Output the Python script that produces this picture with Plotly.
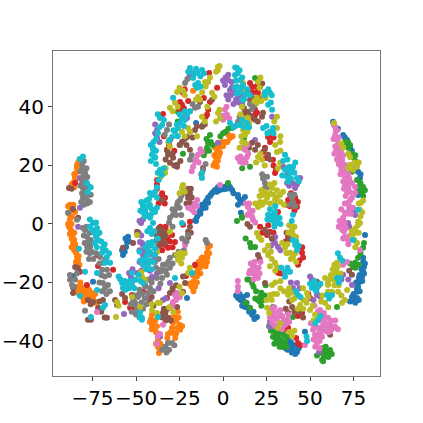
import plotly.graph_objects as go

blue = [(-14.9,2.4),(-13.2,4.8),(-10.3,7.2),(-8.6,8.9),(-6.3,10.6),(-4.6,11.6),(-1.7,11.6),(1.1,12.6),(4,12.6),(5.2,11.6),
        (-8.6,7.2),(-11.5,5.8),(8.6,9.9),(9.8,8.2),(11.5,7.2),(-16,1.2),(-3,12.5),(2.5,13.2),(-7.5,9.5),(-12.5,5),
        (-54.6,-4.4),(-55.2,-6.2),(-55.7,-7.9),(-57.5,-10.6),(8.6,9.2),(10.9,8.2),(8.6,6.5),(12.6,9.2),(10.3,3.8),
        (8.6,-25.3),(11.5,-25),(13.8,-24.3),(12.6,-28.4),(14.4,-28.7),(16.7,-31.1),(19.5,-31.8),(10,-26),(15,-30),
        (36.8,-41.4),(38.5,-42.4),(40.2,-43.1),(42.5,-43.8),(47.1,-36.9),(37,-43),(35,-40.5),(39,-40.5),(41,-41.5),
        (81,-14.7),(80.5,-16.4),(79.9,-18.1),(78.7,-19.8),(77.6,-21.5),(77,-23.2),(74.1,-25),(77,-25.3),(80.5,-11.6),(81.6,-3.8),(75.5,-26),
        (69,30.4),(71.3,28.7),(73,26),(77.6,17.8),(78.7,15.7),(77.6,9.9),(63.2,34.9),(-15.5,34.5),(-11.5,33.8),(-74.7,-19.8),(-86.2,-17.8),(-20.7,-25.3),
        (-15.5,1),(-14,3.5),(-12,6.5),(-9.5,8),(-7,10),(-5.5,11),(-3.5,11),(-0.5,12.5),(0.5,11.8),(2,12),(3,13),(6,10.5),(-10,5.5),(-13,3.5),
        (-56,-5),(-54,-6),(-56.5,-9.5),(-58,-9),(9.5,-24),(7.5,-24.5),(12,-26.5),(11,-28),(13.5,-27),(15.5,-29.5),(17.5,-30),(18,-32.5),
        (38,-41),(36,-42.5),(39.5,-44),(41.5,-44.5),(43.5,-42.5),(37.5,-39.5),(34,-42),(80.5,-13),(81.5,-13.5),(79.5,-15.5),(81,-17),(78.5,-17.5),(78,-18.5),(80,-19.5),
        (76.5,-20),(77,-22),(78.5,-23),(75,-24),(73,-26.5),(76,-27),(78,-26),(70,29.5),(72,27),(74,25),(66,32.5),(76,19),(79,17)]
orange = [(-83.3,20.9),(-83.9,19.1),(-84.5,17.4),(-85.1,15.7),(-86.2,14),(-87.9,6.5),(-86.8,4.8),(-88.5,3.4),(-85,4.1),(-86.8,2.4),
          (-88.5,-1),(-86.8,-2.7),(-86.2,-4.8),(-86.2,-6.5),(-85,-8.2),(-84.5,-9.9),(-83.9,-11.3),(-87.5,-2),(-85.5,-5.5),
          (-83.3,-12.3),(-83.9,-15),(-83.3,-21.5),(-82.2,-22.6),(-80.5,-23.6),(-78.2,-23.2),(-77.6,-24.3),(-75.3,-23.6),(-74.7,-25.3),(-79.3,-25),(-83.3,-23.6),(-72.4,-26.7),(-81,-25),(-76.5,-26),
          (-40.2,-33.5),(-40.8,-34.5),(-39,-35.2),(-37.4,-39.7),(-37.4,-42),(-40.8,-31.1),(-42,-33.5),(-27.6,-31.8),(-28.7,-33.8),(-29.3,-35.6),(-26.4,-35.6),(-24.7,-36.2),(-28.7,-37.3),(-31.6,-37.6),(-36.8,-42.4),(-36.8,-44.1),(-27,-33),
          (-9.2,-13),(-11.5,-14),(-13.2,-15),(-14.9,-16.4),(-16.1,-18.1),(-17.2,-19.8),(-16.1,-21.5),(-8.6,-8.2),(-9.2,-9.9),(-10.3,-11.6),(-11.5,-13.3),(-13.2,-14.7),(-15,-18),(-12,-11.5),(-14,-13),
          (4,29.4),(1.1,28),(-1.7,26.3),(-3.4,24.6),(-4,22.6),(-4.6,20.9),(-1.7,24.3),(-17.2,45.5),
          (-82.5,22),(-84,20),(-83,18),(-85.5,17),(-84,15.5),(-87,13.5),(-85.5,12.5),(-89,6),(-87.5,5.5),(-86,6.5),(-88,1.5),(-89,0),(-87,0),(-88,-3.5),(-85.5,-3),(-87,-5),(-85,-7),(-87,-8),(-85.5,-9),(-83.5,-8.5),
          (-83,-11),(-82.5,-14),(-84.5,-13),(-82,-20),(-84,-22),(-81.5,-21.5),(-79.5,-22),(-79,-24),(-77,-22.5),(-76,-24.5),(-78.5,-26),(-74,-27),(-73.5,-24),(-80,-26.5),
          (-38.5,-37),(-38,-35),(-41.5,-32.5),(-39,-33),(-41,-36),(-38.5,-41),(-36,-41),(-26,-30),(-25.5,-32),(-29,-32),(-27,-37.5),(-25,-34.5),(-23.5,-35),(-30,-37),(-27.5,-39),(-32,-39),
          (-7.5,-7.5),(-8,-10),(-9,-11.5),(-12.5,-12),(-10,-14.5),(-15.5,-14.5),(-13,-17),(-17.5,-17.5),(-18,-21.5),(-15,-20),(-17,-23),(-19.5,-20.5),
          (5.5,30),(3,30.5),(2.5,28),(-0.5,28),(0,26.5),(-3,27),(-4.5,26),(-2.5,23),(-5,23.5),(-3,21.5),(-5.5,20),(-3.5,19.5)]
green = [(29.9,-37.3),(28.7,-38.6),(31.6,-38.6),(31,-39.7),(33.9,-39.7),(33.9,-37.3),(35.6,-40.3),(30,-35.5),(32,-41),(27.5,-36.5),
         (57.5,-43.8),(59.8,-44.1),(61.5,-43.1),(56.9,-46.5),(58.6,-43.1),(55.7,-44.1),(58,-45.5),
         (15.5,-19.1),(16.7,-20.2),(21.3,-25),(23,-26),(20.1,-26),(15.5,-28.7),(24.5,-21),(28.7,-28.4),(40.2,-31.8),
         (70.1,28),(71.8,28),(74.7,22.9),(74.1,17.8),(80.5,12.6),(79.9,10.9),(78.7,13.3),(76,21.5),(75.9,-13.3),(77.6,-11.6),(80.5,-8.2),(74.7,-14.7),(65.5,-28.4),
         (-8.6,27.7),(-9.2,26),(-25.9,38.3),(-7.5,30.4),(0,31),(5.2,32.8),(-24.7,27),(18.4,49.9),(12.1,29.4),(15.5,19.5),(10.9,2.1),(15.5,-6.5),(18.4,-7.9),(2.9,14),(10.9,2.4),(-10.5,24.5),
         (28,-36),(30,-39),(32.5,-37),(29.5,-41),(32.5,-42),(35,-38),(36.5,-42),(26.5,-35),(34.5,-42),(31,-36),(37,-38.5),(59,-42),(60.5,-45.5),(57,-42.5),(57.5,-47),(54,-45),(62.5,-44.5),
         (14,-19),(17.5,-21.5),(19,-23),(22,-23.5),(18.5,-25.5),(24,-24.5),(22,-28),(13,-27),(72,26),(73,27),(74,24),(76,23.5),(79,14),(81.5,11.5),(77,15),(78,11.5),(80.5,9.5),
         (76,-15),(73,-13.5),(78,-14),(79,-10),(81,-6.5),(-8,25),(-7,28),(-9.5,29),(-6,27),(-11,23.5),(1.5,31.5),(3,32.5),(-1.5,30),(-26,35),(-23,24),(20,49),(11,19),(16,-8),(13,-5),(21,-26.5),(8,1)]
red = [(-23.6,40.7),(-24.7,41.7),(-34.5,37.6),(-8,51.6),(-3.4,46.5),(-7.5,41.7),(-32.2,25.3),(-30.5,28.7),(-9.2,37.3),(-23,44.8),
       (-36.2,9.2),(-33.3,8.9),(-37.9,15),(-29.3,-3.8),(-33.3,-7.2),(-36.2,-7.2),(-27.6,-6.2),(-31.6,-8.2),(-19,0.7),(-23,-0.3),(-35,8),(-33,-1),
       (-82.2,-16.4),(-71.8,-14.4),(-63.2,-15.7),(-78.2,-20.9),(-56.3,-26.7),(-53.4,-28.7),(-72.4,-10.6),(-85,14),
       (-52.3,-24.3),(-46,-23.2),(-16.1,-14),(-21.3,-17.8),(-32.2,-25.3),(-28.7,-23.2),(-52.3,-28.7),
       (16.7,46.8),(19.5,45.1),(20.1,44.8),(18.4,39),(18.4,37.3),(25.9,29.7),(28.2,31.5),(24.1,26),(23,24.6),(28.7,21.9),(15.5,48.2),
       (29.9,17.4),(40.2,7.2),(42.5,5.8),(37.4,8.2),(21.3,-1),(27,-2.7),(25.3,-3.8),(37.4,-4.4),(31.6,4.1),(45.4,-9.9),(43.1,-14),(31.6,-16.4),
       (31.6,-16.7),(43.1,-40.7),(50,-25.3),(45.4,-30.4),(37.4,-35.6),
       (-25,39),(-22.5,39.5),(-20,42),(-22,46),(-11,43),(-8.5,39),(-10,36.5),(-34,30),(-31,27),(-28,25),(-38,12),(-35,10.5),(-33.5,7),(-37,7),(-38,13.5),
       (-30.5,-6),(-32,-5),(-35,-9),(-36,-1),(-29,-8),(-32.5,-2.5),(-35,-6.5),(17,45),(19,47),(21,43),(16,41),(19.5,38),(17.5,36),(26,31),(29,29.5),(27,28),(24.5,22.5),(29,20),(30.5,18.5),
       (38.5,6),(41,4.5),(36.5,6.5),(39,10.5),(41.5,9),(43,7.5),(22.5,-3),(26,-0.5),(29,-3),(36,-6),(46,-11.5),(44,-12.5),(45.5,-8),(33,-17),(44.5,-41.5),(42,-39),(49,-24),(43,-31.5),(35,-36)]
purple = [(-19,51.6),(-17.2,50.9),(2.9,49.2),(1.1,47.5),(4,45.8),(6.9,44.8),(8.6,43.4),(-20.7,36.2),(-37.9,32.1),(-37.9,29.4),(-2.9,27.7),(2,44),(5,48.5),
          (8,44.8),(9.8,43.1),(28.2,36.6),(18.4,28.7),(-46.6,-6.5),(-40.2,-10.6),(-46,-10.6),
          (-54,-16.8),(-51.7,-19.1),(-46,-14),(-40.8,-18.5),(-43.7,-13),(-56.9,-30.8),(-47.1,0.3),(-82.2,5.5),(-47.7,-6.2),(-46,-7.2),(-82.2,15.7),(-83.3,-1),
          (-30.5,-20.2),(-40.8,-18.1),(-34.5,-26),(-36.2,-38.6),(-49.4,-16.8),(-50.6,-19.1),
          (29.9,-6.5),(31.6,-7.9),(36.8,14),(41.4,12.3),(44.3,15.7),(28.7,-5.5),(34.5,19.5),(39,14.5),
          (42.5,-20.2),(40.2,-21.9),(51.1,-19.1),(54.6,-24.3),(27,-35.2),(55.2,-43.8),(69,-17.4),(74.1,-20.9),(54,-24.3),(71.8,0.3),(74.7,4.1),
          (0,49),(1.5,50),(3,51),(4.5,44),(7.5,42.5),(3,42.5),(6,41),(-19.5,50),(-16,52),(5,46.5),(-39,31),(-36.5,28),(-39,34),(-21.5,37.5),(9,41.5),(11,41),(12,44.5),
          (-48,-9),(-47,-4),(-48.5,-3),(-45,-9),(-39,-12),(-48,-13),(-52,-15.5),(-53,-18),(-47,-16),(-42,-16),(-38,-17),(-43,-25),(-33,-25.5),(-37,-22),(-46,1.5),(-48,1),
          (30,-4.5),(33,-9),(27.5,-7.5),(38,13),(40,14),(42.5,13.5),(37,17),(44,-22),(39,-20),(50,-18),(56,-25),(27,-33.5),(72.5,-1),(76,3),(68,-19),(72,-19),(52,-26)]
brown = [(-88.5,12.3),(-86.2,5.1),(-83.3,2.1),(-49.4,-2.7),(-51.7,-6.5),(-57.5,-8.2),(-35,8.2),(-37.4,8.9),
         (-85,-14.7),(-83.5,-15),(-86.2,-23.6),(-77.6,-26),(-74.7,-26.7),(-69,-26),(-71.8,-28.7),(-77.6,-32.8),(-75.9,-32.8),(-66.7,-32.1),(-60.9,-27.7),(-56.3,-25.3),(-42,-26.7),(-34.5,-30.4),
         (-36.2,-3.1),(-35,-4.4),(-34.5,-5.5),(-37,-1.5),(-38,-4),(-19,10.6),(-20.1,8.9),(-19,7.2),(-20,12),(-20.1,-2.7),(-19,-1),(-26.4,19.5),(-11.5,19.1),
         (-16.1,32.1),(-19,31.5),(-20.7,29.7),(-23.6,28),(-12.1,33.2),(-31.6,23.6),(-28.7,22.6),(-30.5,20.9),(-26.4,20.2),(-19,25.3),(-13.2,41.7),(-6.3,42.4),(-22,29),
         (-33.3,-31.1),(-31.6,-32.1),(-30.5,-23.6),(-21.8,-20.2),(-23,-23.2),(-26.4,-28.4),(-34,-29),(-29,-23),
         (16.7,43.1),(15.5,42.4),(21.3,46.8),(14.4,38.3),(12.6,37.9),(22.4,36.6),(18.4,35.6),(25.9,23.6),(16.7,27.7),(18.4,25.3),
         (25.9,-3.1),(37.4,-5.5),(38.5,-4.4),(15.5,-1),(20.1,-10.6),(39.7,-28.4),(37.4,-30.4),(44.3,-30.1),(54,-19.8),(24.1,-20.2),(61.5,-37.9),(74.1,-17.4),
         (-87,12),(-83,-16),(-86,-22),(-76,-27.5),(-71,-26.5),(-70,-30),(-68,-32),(-62,-26),(-58,-24),(-40,-28),(-41,-25),(-37,-3),(-35.5,-2),(-33,-4),(-38,-5.5),(-36,-5.5),(-37,-7.5),(-34,-2.5),(-33.5,-6.5),
         (-18.5,12),(-21,10.5),(-18,9),(-21,7),(-20,-4.5),(-18.5,-3),(-15,33.5),(-17.5,29.5),(-21,27),(-25,27),(-10.5,34),(-32,25),(-33,22),(-28,20),(-29,24),(-24.5,21.5),
         (-33,-30),(-35,-32),(-30,-33),(-33,-33),(-32,-29),(-29,-22),(-27,-21),(-23,-18),(-25,-25),(15,44.5),(18,41.5),(22.5,48),(12,39.5),(16,37),(20,35),(23,38),(24,25.5),(27,22),(15,26),(20,27),
         (24,-2),(28,-5),(36,-7),(39.5,-2.5),(36.5,-3),(14,0),(21,-12),(38,-26.5),(41,-30),(36,-29),(46,-32),(55,-21),(72.5,-16)]
pink = [(64.4,33.2),(64.4,30.4),(65.5,28.7),(66.1,27),(67.2,22.9),(68.4,21.9),(70.1,19.1),(70.1,15.7),(71.3,14),(74.1,14),(71.3,10.9),(74.1,8.9),(71.8,7.2),(74.7,5.5),(70.1,3.8),(69,2.1),(68.4,0.3),
        (69,17.4),(75.9,12.6),(73,10.9),(75.9,10.6),(67.8,24.6),(65,25),(66.5,20.5),(68,18.5),(72,17),(69.5,12),(72.5,5),(64.8,31.8),(66,24),
        (68.4,-0.3),(70.1,-4.4),(71.8,-5.5),(71.3,-13),(69,-14),(78.7,-8.9),(69.5,-2.5),
        (58.6,-33.8),(61.5,-34.5),(60.3,-32.1),(64.4,-35.2),(57.5,-31.8),(55.7,-31.1),(54.6,-35.6),(52.9,-37.9),(54,-40.7),(56.9,-38.6),(59.8,-36.9),(63.2,-35.2),(55.7,-29.4),(51.7,-36.2),(57,-35),(53,-33.5),(61,-37),
        (28.7,-30.4),(31,-32.1),(32.8,-33.8),(28.2,-33.8),(35.6,-34.5),(31.6,-30.1),(36.8,-32.8),(30,-32.5),(34,-31.5),
        (17.2,-15),(16.7,-16.8),(19.5,-16.4),(18.4,-17.4),(15.5,-16),(20.5,-15),(8.6,-21.5),(18.4,-14.7),(15.5,4.1),(16.7,2.4),(17.2,1.4),(14.4,5.8),
        (11.5,21.9),(9.8,21.2),(13.8,22.9),(12.6,25.3),(1.1,39),(2.3,37.3),(0,35.6),(9.8,21.9),(11.5,20.9),(-12.1,24.6),(-14.4,23.6),(-16.1,21.2),(-17.2,19.5),
        (-17.2,5.8),(-17.8,4.8),(-14.9,8.2),(-1.7,13.3),(-21.8,-7.2),(-27.6,-24.3),(-28.7,-26.7),(-29.3,-27.7),(-26.4,-23.6),(-36.2,-37.6),(-37.9,-41),(-34.5,-34.5),(-72.4,-30.1),(47.1,-41.4),
        (63.5,34),(65.5,32),(63.5,29),(66.5,29.5),(64.5,26.5),(67,25.5),(65.5,22),(69,23.5),(67.5,20),(64,24),(69,20.5),(71,20),(67.5,17),(71,17.5),(69,14.5),(70,13),(72.5,15.5),(72,12.5),(70.5,9.5),(73,8),(70,7),(72.5,6),(71.5,3.5),(73.5,3.5),(68,5),(67,1),(70,0.5),(68.5,-2),(66.5,-1),(70.5,-1.5),(69,-5),(72,-7),(73,-4),
        (56,-33),(58,-30.5),(59,-32),(62,-33),(62.5,-36),(60,-35),(57.5,-36.5),(55.5,-37),(54,-38.5),(52,-39.5),(55.5,-40),(53,-42),(55.5,-42.5),(50.5,-34),(52.5,-35),(54.5,-30),(52.5,-28),(64.5,-33),(66,-36),
        (27.5,-29),(29.5,-28.5),(29,-31.5),(27,-32),(31.5,-34.5),(30,-35),(33,-31.5),(35,-33),(38,-33.5),(37.5,-31),(34,-36),(33,-29.5),
        (16,-13.5),(18,-13),(15,-17),(17.5,-19),(20,-18.5),(21,-17),(21.5,-13),(8.5,-19.5),(8.5,-23),(14,3),(15,7),(13,7),(18.5,0.5),(17,4.5),
        (10,23),(8.5,22.5),(13,21),(14.5,24),(11,26),(14,27),(2,40),(-0.5,37),(3.5,36),(1,36.5),(-13,25.5),(-15.5,22),(-14,21),(-18,18),(-16.5,4),(-15,6),(-16,7),(-20,5.5),(-22,-6),(-27,-26),(-30,-28.5),(-25,-25),(-37.5,-38.5)]
gray = [(-81,20.2),(-80.5,19.1),(-79.3,17.4),(-80.5,16.1),(-79.3,14.4),(-80.5,12.3),(-79.3,10.6),(-80.5,8.9),(-78.2,8.2),(-77.6,9.9),(-81,14),(-78.5,12.5),
        (-83.9,1.4),(-89.1,3.8),(-79.3,-2.1),(-78.2,-4.4),(-77.6,-6.2),(-76.4,-7.9),(-75.3,-9.6),(-80.5,-1.4),(-78,-8),(-76,-5.5),(-74.5,-12),
        (-87.9,-19.1),(-86.8,-20.9),(-85,-19),(-69.5,-15.7),(-66.7,-15.7),(-69,-20.2),(-67.8,-21.9),(-66.1,-20.9),(-69,-13.3),(-70.7,-11.3),(-79.3,-29.7),(-68,-18),
        (-50.6,-27.7),(-49.4,-29.4),(-51.7,-26),(-48.9,-24.3),(-44.8,-21.5),(-42,-21.9),(-43.1,-23.6),(-50.6,-27),(-48.9,-25),(-44.8,-20.9),(-47,-27),(-45,-25.5),(-50,-31),
        (-34.5,-14),(-36.2,-16.4),(-35,-18.5),(-32.2,-17.4),(-39.1,-13),(-33.3,-42),(-31.6,-40.7),(-29.3,-40.7),
        (-26.4,6.5),(-25.9,7.5),(-24.7,8.2),(-27.6,4.8),(-28.7,3.1),(-30.5,2.1),(-20.1,-3.8),(-33.3,-14),(-30.5,-11.6),(-27.6,-10.6),(-36.2,-15.7),(-9.2,-6.5),(-11.5,18.5),
        (-16.1,39.7),(-14.4,40),(-21.8,48.2),(-32.2,32.1),(-19,21.9),(24.1,14),(24.1,12.3),(39.7,8.9),(40.2,7.5),(25.3,16.1),(8.6,34.9),(16.7,39.3),
        (-82,22),(-80,21.5),(-82,18),(-78.5,19),(-78,16),(-82,13),(-77.5,13),(-81,10.5),(-78,7),(-76.5,7.5),(-76,10),(-81.5,7.5),(-80,6.5),(-78.5,-1),(-80,-4),(-76.5,-3),(-79.5,-6.5),(-75,-6.5),(-78.5,-9.5),(-76.5,-10),(-77,-12),(-73,-10),
        (-85.5,-21.5),(-88,-17.5),(-84,-17),(-70,-17.5),(-71,-20),(-65.5,-17.5),(-67,-24),(-65,-23),(-69.5,-23),(-67.5,-12),(-71,-13.5),(-48,-22.5),(-46.5,-24),(-43,-19),(-41,-20),(-40,-23),(-46,-29),(-44,-27.5),(-52.5,-30),(-48,-32),(-51,-24.5),(-53,-27.5),
        (-37,-12),(-33,-16),(-38,-18.5),(-30.5,-15),(-36,-20.5),(-38.5,-15),(-35,-43),(-32.5,-44),(-31,-43),(-28,-41.5),(-24,9.5),(-25,5.5),(-29,5),(-27,3),(-24,3),(-31,0.5),(-29,-1),(-23.5,-5),(-21,-6),(-31.5,-13),(-29,-13.5),(-34.5,-16),(-25.5,-9.5),(-22.5,-9),(-10,-5.5),
        (-12.5,17),(-10,20.5),(-17.5,41),(-19,38.5),(-20.5,49.5),(-33.5,30.5),(-31,34),(-18,23.5),(23,15.5),(25.5,12.5),(22.5,17),(38.5,10),(41,10),(38,6.5),(41.5,6),(9.5,36.5),(7,33.5),(15.5,41),(18,40.5)]
olive = [(-2.9,53.7),(-3,52.5),(-8.6,48.5),(-10.3,48.5),(-14.4,43.4),(-13.2,42.4),(-23,45.5),(-26.4,45.1),(-30.5,39.7),(-27.6,41.4),(-20.1,32.8),(-30.5,26.3),(-6.3,44.8),(-12.1,36.6),(-2.9,37.9),(-1.7,36.2),(-23.6,31.5),
         (-34.5,18.5),(-33.3,17.4),(-23.6,12.3),(-23,13.3),(-30.5,-2.7),(-24.7,-9.9),(-23.6,-11.6),(-25.9,-12.3),(-49.4,-3.8),(-35,17.8),
         (-46.6,-18.1),(-60.9,-26.7),(-61.5,-31.8),(-52.3,-25),(-47.7,-28.4),(-40.8,-29.4),(-37.9,-9.6),(-36.2,-27),(-37.4,-27),(-28.7,-30.1),(-23.6,-23.6),(-20.1,-16.8),
         (20.1,48.5),(19.5,43.1),(19.5,41.4),(23,44.1),(10.9,40),(11.5,48.2),(14.4,36.2),(12.6,34.5),(11.5,32.1),(12.6,30.4),(31,36.6),(32.8,28),(31,32.8),(31,24.6),(20.1,22.9),(22.4,21.9),(32.8,20.9),
         (23,9.9),(25.3,8.9),(21.3,7.5),(28.2,12.3),(31,9.2),(32.8,9.9),(29.9,8.2),(28.2,13.3),(20.1,5.8),(39.7,-2.1),(40.2,-3.8),(35.6,-8.2),(38.5,-9.9),(40.2,-11.3),(29.9,-13.3),(31,-14.7),(25.9,-10.6),(19.5,-3.1),(25.9,-7.5),(27,10.5),(24,7.5),
         (37.4,-24.3),(39.7,-26),(44.3,-27.7),(48.3,-23.6),(50,-29.4),(36.8,-23.2),(28.2,-20.9),(25.3,-28.7),(52.9,-31.1),(31.6,-35.6),(39.7,-38.3),(60.3,-23.2),(60.3,-20.9),(27,-24.3),(33,-22),(42,-24),(46,-26),
         (65.5,-13.3),(64.4,-16.8),(66.1,-18.1),(65.5,-19.8),(60.3,-20.2),(58.6,-18.5),(62.6,-23.2),(66.1,-23.2),(58.6,-27),(68.4,-27),(71.3,-22.6),(75.9,-3.1),(77,-6.5),(78.7,0.3),(74.1,-4.4),(76,-8),(63.5,-19),
         (69,26),(73,20.2),(77,19.5),(74.7,18.5),(79.3,7.2),(78.7,4.8),(77.6,0.7),(73,22.9),(63.8,34.5),
         (-4,52),(-2,54),(-7.5,50),(-10,47),(-12,45),(-15.5,42.5),(-25,46.5),(-22,44),(-29,38.5),(-26,40),(-9,40),(-5,43.5),(-10.5,35),(-2,39),(-4,35),(-22,30),(-19,31.5),(-15,30),(-31.5,28),(-33,19),(-36,16),(-22,11),(-25,10.5),
         (-26.5,-10.5),(-24,-13.5),(-22,-10),(-47,-16.5),(-45,-19),(-38,-30.5),(-41,-27.5),(-31,-28.5),(-25,-21.5),(-19,-15),(-60,-28),
         (21,46.5),(21.5,50),(22,42),(18,42),(24.5,43),(12,46),(10,37.5),(12,36),(15,34.5),(14,31.5),(10.5,30),(11,28),(9.5,26),(13,27.5),(33,30),(30,27),(33,25),(29.5,35),(31.5,19),(21.5,24),(19,21),(24,20),
         (22,11.5),(24,11),(26,10),(21,9.5),(22.5,6.5),(27,13.5),(29.5,14),(31,11.5),(29,10),(33,7.5),(34.5,11),(35,6.5),(30,6.5),(27,7),(18.5,7),(38,-0.5),(41,-1),(37.5,-3),(42,-4.5),(34,-6.5),(37,-7),(36.5,-10),(41.5,-10),(39,-12),(42,-13),(28,-12),(27,-14.5),(33,-15),(30,-16),(24,-9),(27.5,-9.5),(22,-5.5),(20.5,-4.5),
         (38,-22),(35,-23),(39,-23.5),(41,-25.5),(43,-29),(46,-29),(48,-27),(49,-25),(46,-22),(51.5,-28),(52,-33),(33,-19.5),(30,-20),(31,-24),(29,-24),(25,-26),(28,-26),(26.5,-30.5),(33,-34),(38,-37),(41,-36.5),(62,-24.5),(61,-19),(62,-17.5),
         (64,-14),(63,-15.5),(66,-14.5),(65,-16),(67.5,-17),(64,-21),(66.5,-21),(68,-24.5),(70,-26),(60,-24),(57,-24.5),(56.5,-26.5),(60.5,-28.5),(76,-1.5),(74,-2.5),(75.5,-5.5),(78,-3),(77.5,-0.5),(79,2.5),(80,4),(78,7),(80.5,8),(72,19),(75.5,21),(78,21),(72,24),(68,27.5)]
cyan = [(-82.2,22.2),(-78.2,14),(-77.6,10.9),(-74.7,0.3),(-72.4,-1.4),(-75.3,-2.1),(-72.4,-3.8),(-71.8,-5.5),(-73.6,-6.5),(-69,-8.2),(-69.5,-9.9),(-66.7,-11.3),(-82.8,-8.5),
        (-40.2,26),(-40.8,23.6),(-39.1,22.6),(-46,6.5),(-44.8,4.8),(-42,6.5),(-43.7,3.1),(-39.1,4.1),(-40.8,9.9),(-39.1,10.9),(-35,16.8),(-36.2,18.5),(-40.8,-6.2),(-42,-9.6),(-39.1,-10.6),(-43.7,-10.6),
        (-46,5.8),(-44.8,4.1),(-42,10.6),(-42,2.1),(-40.2,0.3),(-42,-1.4),(-43.7,-8.2),(-43.1,-10.6),(-46,-14),(-43.1,-14),(-40.2,-6.5),(-12.1,15.7),(-12.1,17.4),(-17.8,-16.8),(-23.6,0.3),
        (-79.3,-16.4),(-72.4,-22.6),(-72.4,-16.8),(-67.8,-13.3),(-64.9,-13.3),(-58,-20.2),(-55.2,-20.9),(-52.3,-20.9),(-50.6,-19.1),(-57.5,-21.9),(-46,-12.3),(-43.1,-9.9),(-40.2,-13),(-47.7,-31.8),(-46.6,-32.8),(-67.8,-27.7),(-75.9,-31.8),(-69,-28.7),(-82.2,-24.6),(-60,-18),
        (-37.4,-31.8),(-47.7,-30.4),(-46.6,-32.1),(-46,-20.2),(-27.6,-18.5),(-52.3,-16.8),
        (-19,53.3),(-14.9,51.6),(-17.2,49.9),(-12.1,52.6),(-14.4,48.2),(-14.9,46.5),(8,53.3),(6.9,50.9),(9.8,49.2),(6.9,46.5),(9.8,45.1),(12.6,44.1),(10.9,42.4),(8.5,51.5),
        (-23.6,36.2),(-24.7,34.5),(-27.6,31.5),(-29.3,29.7),(-36.2,36.2),(-35,33.8),(-37.4,31.1),(-40.2,25.3),(-39.1,22.9),(-20.7,37.3),(-25.9,32.8),(-28.7,43.1),(9.8,33.8),(8,33.8),(4,34.5),(13.8,34.5),(-22,35.5),
        (11.5,47.5),(13.8,44.8),(27,44.8),(24.1,45.1),(25.9,40.7),(28.2,39),(27,31.5),(28.7,32.8),(23,32.8),(35.6,23.6),(40.2,19.5),
        (39.7,19.1),(38.5,17.4),(36.8,16.1),(35.6,18.5),(42.5,15.7),(37.4,14.4),(25.9,3.1),(28.7,3.1),(28.2,1.4),(31,0.3),(29.9,4.1),(31,2.1),(40.2,3.1),(41.4,-7.2),(42.5,-8.9),(35.6,-16.4),(38.5,-16.4),
        (43.1,-24.3),(51.7,-20.9),(54,-21.9),(51.1,-21.9),(35.6,-18.1),(37.4,-16.4),(48.3,-40),
        (67.2,-11.6),(65.5,-18.5),(67.2,-18.5),(59.8,-24.3),(62.6,-24.3),(54.6,-32.8),(54,-20.9),(74.7,-5.5),(77.6,4.8),
        (-80.5,23),(-76,12.5),(-76.5,1.5),(-73,0.5),(-76.5,-1),(-74,-3),(-71,-3),(-73,-4.5),(-70,-6),(-72.5,-8),(-67.5,-9),(-68,-7),(-65.5,-10),(-40,28),(-38.5,25),(-41.5,21.5),
        (-47,7.5),(-46,4),(-47.5,4.5),(-43,6),(-44,8),(-41,5),(-45,2.5),(-41.5,3),(-38,5.5),(-38,9),(-42.5,8.5),(-37,15),(-37.5,17.5),(-34,19),(-38,12.5),(-43,-6.5),(-44.5,-8),(-41.5,-7.5),(-45,-12),(-42,-12.5),(-39,-8.5),(-37.5,-5),(-41,-3.5),(-43.5,-2.5),(-39.5,-2.5),(-47.5,-12.5),(-48,-9.5),(-44,-15.5),(-41,-15.5),
        (-59,-19),(-56.5,-19.5),(-53.5,-19.5),(-54,-22),(-51,-22),(-56,-22.5),(-48.5,-17.5),(-47.5,-19.5),(-17,51.5),(-20,52),(-15.5,53),(-13,50.5),(-11,51.5),(-16,47.5),(-13,47),(7,53.5),(9.5,52.5),(7.5,49),(11,50),(8,47),(10.5,46.5),(8,44.5),(12,42.5),(14,46),(15.5,44),
        (-25,37.5),(-22.5,33.5),(-26.5,34),(-28.5,32),(-26,30),(-31,28.5),(-37.5,37.5),(-34,35.5),(-36.5,33),(-38.5,29),(-41.5,27),(-38.5,20.5),(-22,38.5),(-19,38.5),(6,33),(11,35.5),(12,33),(15,33),(25.5,31),(25,33.5),(29,31),(24,44),(26,46),(28,44),(27.5,41.5),
        (34.5,21.5),(37,22),(41.5,21),(38,19.5),(41,17.5),(34,16.5),(37,19),(39,15.5),(43.5,14.5),(27,5),(27,1.5),(29.5,0.5),(25.5,1.5),(32.5,2),(30,6),(33,0),(29.5,-1),(39.5,1),(42,-6),(40,-5.5),(43.5,-7.5),(33.5,-15),(37,-15),(42,-23),(44.5,-25),(52.5,-19.5),(53.5,-23),(50,-20.5),(56,-20.5),(48,-38.5),(66,-10),(68.5,-12.5),(66.5,-20),(61,-25.5),(53,-34),(56,-31.5)]

series = [("0", blue, "#1f77b4"), ("1", orange, "#ff7f0e"), ("2", green, "#2ca02c"), ("3", red, "#d62728"),
          ("4", purple, "#9467bd"), ("5", brown, "#8c564b"), ("6", pink, "#e377c2"), ("7", gray, "#7f7f7f"),
          ("8", olive, "#bcbd22"), ("9", cyan, "#17becf")]

fig = go.Figure()
for name, pts, col in series:
    fig.add_trace(go.Scatter(x=[p[0] for p in pts], y=[p[1] for p in pts], mode="markers", name=name,
                             marker=dict(color=col, size=6, line_width=0)))

axis = dict(showgrid=False, zeroline=False, showline=True, mirror=True, linecolor="#777777", linewidth=1, automargin=False,
            ticks="outside", ticklen=4, tickcolor="#444444", tickangle=0,
            tickfont=dict(family="DejaVu Sans", size=20, color="black"))
fig.update_xaxes(range=[-97.7, 90.2], tickvals=[-75, -50, -25, 0, 25, 50, 75], **axis)
fig.update_yaxes(range=[-52, 59.1], tickvals=[-40, -20, 0, 20, 40], **axis)
fig.update_layout(width=423, height=423, margin=dict(l=53, r=43, t=51, b=47), showlegend=False,
                  plot_bgcolor="white", paper_bgcolor="white")
# the page's default body margin would push the figure 8px off
fig.write_html("out.html", post_script="document.body.style.margin = '0';", config={"displayModeBar": False})
